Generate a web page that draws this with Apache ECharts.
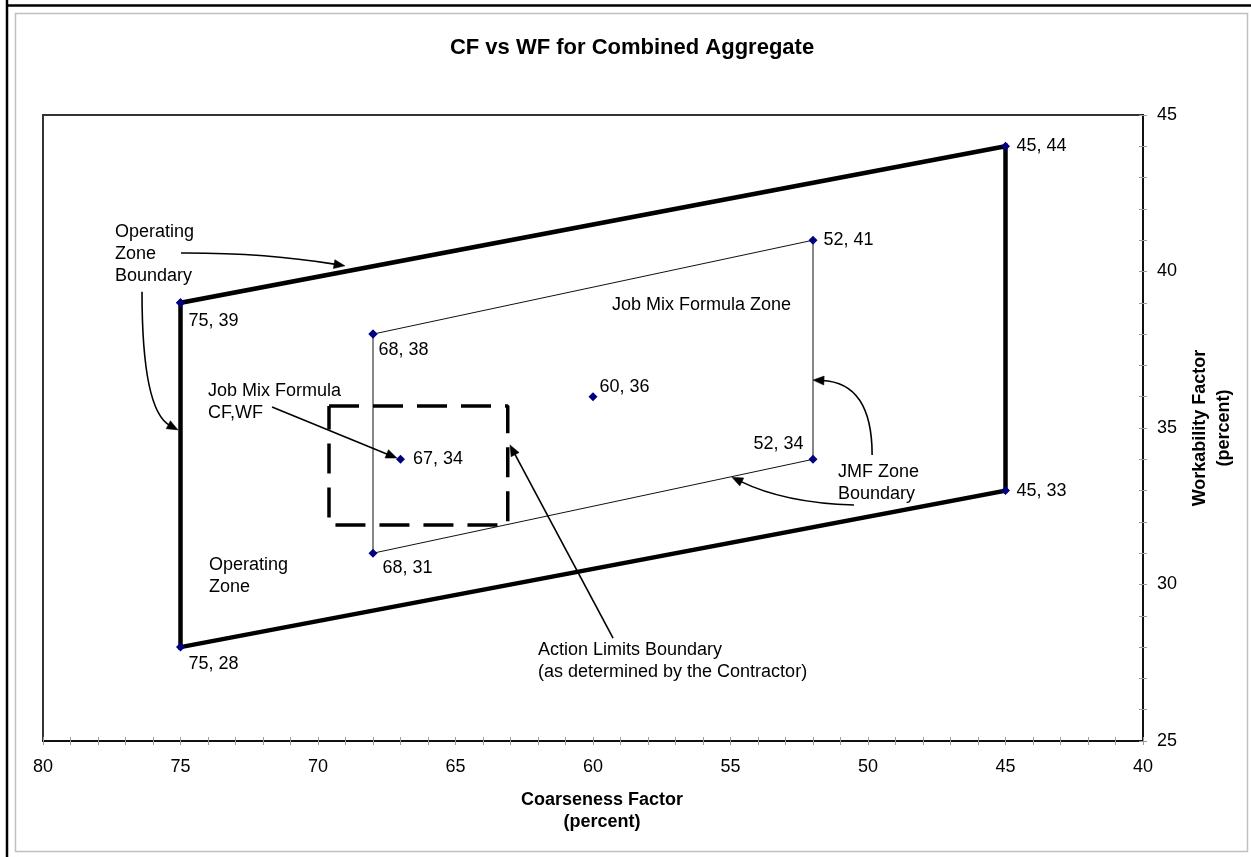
<!DOCTYPE html>
<html><head><meta charset="utf-8">
<script src="https://cdn.jsdelivr.net/npm/echarts@6/dist/echarts.min.js"></script>
<style>html,body{margin:0;padding:0;background:#fff;}#c{width:1251px;height:857px;}</style>
</head><body><div id="c"></div>
<script>
// ---- data ----
const xLabelStep = 5;               // labelled x ticks: 80,75,...,40
const yLabelStep = 5;               // labelled y ticks: 25,30,...,45
const operatingZone = [[75,39],[45,44],[45,33],[75,28],[75,39]];
const jmfZone = [[68,38],[52,41],[52,34],[68,31],[68,38]];
const jmfPoints = [[60,36],[67,34]];
const actionLimits = [[69.6,35.7],[63.1,35.7],[63.1,31.9],[69.6,31.9],[69.6,35.7]];
// annotation arrows (data units): tail, bend control (null = straight), head
const arrowTails    = [[74.98,40.59],[76.4,39.35],[71.67,35.67],[59.27,28.29],[49.85,34.14],[50.51,32.54]];
const arrowControls = [[71.93,40.6],[76.4,35.55],null,null,[49.85,36.45],[53.02,32.6]];
const arrowHeads    = [[69.02,40.18],[75.09,34.94],[67.13,34.04],[63.02,34.46],[52.0,36.53],[54.95,33.43]];

// ---- styling / layout ----
const FONT = '"Liberation Sans", Arial, Helvetica, sans-serif';
const NAVY = '#000080';
const labelPlacement = {
  '75,39': ['right', -1.5, 18],
  '45,44': ['right', 1.5, 0],
  '45,33': ['right', 1.5, 0],
  '75,28': ['right', -1.5, 17],
  '68,38': ['right', -4, 16],
  '52,41': ['right', 1, 0],
  '52,34': ['left', 0, -15],
  '68,31': ['right', 0, 15],
  '60,36': ['right', -3, -10],
  '67,34': ['right', 3, 0]
};
function items(arr, closed) {
  return arr.map((p, i) => {
    if (closed && i === arr.length - 1) return {value: p, label: {show: false}};
    const lp = labelPlacement[p[0] + ',' + p[1]];
    return {value: p, label: {show: true, position: lp[0], offset: [lp[1], lp[2]]}};
  });
}
const pointLabel = {
  show: true, color: '#000', fontSize: 18, fontFamily: FONT,
  formatter: p => p.value[0] + ', ' + p.value[1]
};
const annotations = [
  {text: 'Operating\nZone\nBoundary', x: 115, y: 221},
  {text: 'Job Mix Formula Zone', x: 612, y: 294},
  {text: 'Job Mix Formula\nCF,WF', x: 208, y: 380},
  {text: 'JMF Zone\nBoundary', x: 838, y: 461},
  {text: 'Operating\nZone', x: 209, y: 554},
  {text: 'Action Limits Boundary\n(as determined by the Contractor)', x: 538, y: 639}
];

function renderArrow(params, api) {
  const i = params.dataIndex;
  const p0 = api.coord(arrowTails[i]);
  const p2 = api.coord(arrowHeads[i]);
  const c = arrowControls[i] ? api.coord(arrowControls[i]) : [(p0[0] + p2[0]) / 2, (p0[1] + p2[1]) / 2];
  let dx = p2[0] - c[0], dy = p2[1] - c[1];
  const L = Math.hypot(dx, dy) || 1; dx /= L; dy /= L;
  const len = 11, w = 4.5;
  const bx = p2[0] - dx * len, by = p2[1] - dy * len;
  const ex = p2[0] - dx * (len - 2), ey = p2[1] - dy * (len - 2);
  return {
    type: 'group',
    children: [
      {type: 'bezierCurve', shape: {x1: p0[0], y1: p0[1], x2: ex, y2: ey, cpx1: c[0], cpy1: c[1]},
        style: {stroke: '#000', lineWidth: 1.6, fill: null}},
      {type: 'polygon', shape: {points: [[p2[0], p2[1]], [bx - dy * w, by + dx * w], [bx + dy * w, by - dx * w]]},
        style: {fill: '#000', stroke: '#000', lineWidth: 0.5}}
    ]
  };
}

const chart = echarts.init(document.getElementById('c'), null, {renderer: 'canvas'});
const baseX = {type: 'value', min: 40, max: 80, interval: 1, inverse: true, position: 'bottom', splitLine: {show: false}};
const baseY = {type: 'value', min: 25, max: 45, interval: 1, position: 'right', splitLine: {show: false}};
const tickStyle = {color: '#9a9a9a', width: 1};

const option = {
  animation: false,
  backgroundColor: '#fff',
  grid: {left: 43, right: 108, top: 115, bottom: 116, show: true, borderColor: '#333', borderWidth: 2, backgroundColor: 'transparent'},
  xAxis: [
    Object.assign({}, baseX, {
      axisLine: {show: true, onZero: false, lineStyle: {color: '#111', width: 2}},
      axisTick: {show: true, inside: true, length: 4, lineStyle: tickStyle},
      axisLabel: {show: true, margin: 17, color: '#000', fontSize: 18, fontFamily: FONT,
        formatter: v => (v % xLabelStep === 0 ? String(v) : '')},
      name: 'Coarseness Factor\n(percent)', nameLocation: 'middle', nameGap: 48,
      nameTextStyle: {color: '#000', fontSize: 18, fontWeight: 'bold', fontFamily: FONT, lineHeight: 22, padding: [0, 0, 0, 18]}
    }),
    Object.assign({}, baseX, {
      axisLine: {show: false, onZero: false},
      axisTick: {show: true, inside: false, length: 4, lineStyle: tickStyle},
      axisLabel: {show: false}
    })
  ],
  yAxis: [
    Object.assign({}, baseY, {
      axisLine: {show: true, onZero: false, lineStyle: {color: '#111', width: 2}},
      axisTick: {show: true, inside: true, length: 4, lineStyle: tickStyle},
      axisLabel: {show: true, margin: 14, color: '#000', fontSize: 18, fontFamily: FONT,
        formatter: v => (v % yLabelStep === 0 ? String(v) : '')},
      name: 'Workability Factor\n(percent)', nameLocation: 'middle', nameRotate: 90, nameGap: 33,
      nameTextStyle: {color: '#000', fontSize: 18, fontWeight: 'bold', fontFamily: FONT, lineHeight: 24}
    }),
    Object.assign({}, baseY, {
      axisLine: {show: false, onZero: false},
      axisTick: {show: true, inside: false, length: 4, lineStyle: tickStyle},
      axisLabel: {show: false}
    })
  ],
  graphic: [
    {type: 'line', silent: true, z: 100, shape: {x1: 7, y1: 0, x2: 7, y2: 857}, style: {stroke: '#000', lineWidth: 2.5}},
    {type: 'line', silent: true, z: 100, shape: {x1: 6, y1: 5.5, x2: 1251, y2: 5.5}, style: {stroke: '#000', lineWidth: 2.5}},
    {type: 'rect', silent: true, z: 100, shape: {x: 15.5, y: 13.5, width: 1232, height: 838}, style: {fill: 'none', stroke: '#c0c0c0', lineWidth: 1.5}},
    {type: 'text', silent: true, z: 100, x: 632, y: 48,
      style: {text: 'CF vs WF for Combined Aggregate', fill: '#000', font: 'bold 22px ' + FONT, align: 'center', verticalAlign: 'middle'}}
  ].concat(annotations.map(a => ({
    type: 'text', silent: true, z: 100, x: a.x, y: a.y,
    style: {text: a.text, fill: '#000', font: '18px ' + FONT, lineHeight: 22, align: 'left', verticalAlign: 'top'}
  }))),
  series: [
    {
      name: 'JMF Zone', type: 'line', xAxisIndex: 0, yAxisIndex: 0, z: 3,
      data: items(jmfZone, true), symbol: 'diamond', symbolSize: 9,
      itemStyle: {color: NAVY, opacity: 1}, lineStyle: {color: '#111', width: 1}, label: pointLabel
    },
    {
      name: 'Action Limits', type: 'line', xAxisIndex: 0, yAxisIndex: 0, z: 3,
      data: actionLimits, showSymbol: false, symbol: 'none',
      lineStyle: {color: '#000', width: 3.5, type: [30, 14]}
    },
    {
      name: 'Operating Zone', type: 'line', xAxisIndex: 0, yAxisIndex: 0, z: 4,
      data: items(operatingZone, true), symbol: 'diamond', symbolSize: 9,
      itemStyle: {color: NAVY, opacity: 1}, lineStyle: {color: '#000', width: 4.5, cap: 'square', join: 'miter'}, label: pointLabel
    },
    {
      name: 'JMF Points', type: 'scatter', xAxisIndex: 0, yAxisIndex: 0, z: 5,
      data: items(jmfPoints, false), symbol: 'diamond', symbolSize: 9,
      itemStyle: {color: NAVY, opacity: 1}, label: pointLabel
    },
    {
      name: 'Arrows', type: 'custom', coordinateSystem: 'cartesian2d', xAxisIndex: 0, yAxisIndex: 0, z: 6,
      clip: false, silent: true,
      data: arrowTails, renderItem: renderArrow
    }
  ]
};
chart.setOption(option);
</script>
</body></html>
